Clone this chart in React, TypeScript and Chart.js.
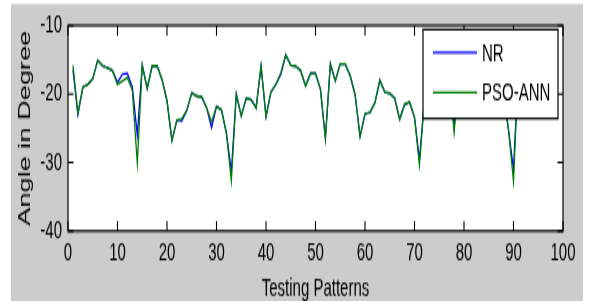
import { useEffect, useRef } from 'react';
import { Chart, registerables } from 'chart.js';

Chart.register(...registerables);

// ---- data ----
const patterns = [
  1, 2, 3, 4, 5, 6, 7, 8, 9, 10, 11, 12, 13, 14, 15, 16, 17, 18, 19, 20,
  21, 22, 23, 24, 25, 26, 27, 28, 29, 30, 31, 32, 33, 34, 35, 36, 37, 38, 39, 40,
  41, 42, 43, 44, 45, 46, 47, 48, 49, 50, 51, 52, 53, 54, 55, 56, 57, 58, 59, 60,
  61, 62, 63, 64, 65, 66, 67, 68, 69, 70, 71, 72, 73, 74, 75, 76, 77, 78, 79, 80,
  81, 82, 83, 84, 85, 86, 87, 88, 89, 90, 91, 92, 93, 94, 95,
];

const nrAngles = [
  -16.5, -23.0, -19.0, -18.6, -17.8, -15.1, -15.9, -16.2, -16.6, -18.3,
  -17.1, -17.0, -19.0, -26.0, -15.8, -19.2, -15.9, -15.9, -17.9, -21.0,
  -26.8, -23.8, -23.9, -22.4, -19.8, -20.3, -20.4, -22.0, -24.9, -21.8,
  -22.3, -25.7, -31.3, -20.0, -23.2, -20.6, -20.8, -22.0, -15.9, -23.3,
  -19.7, -18.6, -17.1, -14.3, -15.8, -15.9, -16.6, -18.8, -17.0, -17.0,
  -19.3, -26.5, -15.6, -18.1, -15.6, -15.6, -17.3, -20.1, -26.2, -22.9,
  -22.7, -21.3, -18.0, -19.7, -19.9, -20.6, -23.7, -21.5, -21.2, -23.4,
  -29.6, -20.9, -17.5, -16.0, -17.0, -16.5, -16.8, -25.0, -16.8, -16.0,
  -18.0, -17.0, -15.5, -16.0, -18.5, -17.0, -16.5, -20.0, -25.3, -31.0,
  -16.0, -15.5, -17.0, -16.5, -18.0,
];

const psoAnnAngles = [
  -15.8, -22.8, -19.0, -18.6, -17.8, -15.1, -15.9, -16.2, -16.6, -18.6,
  -18.1, -17.6, -19.5, -30.1, -15.8, -19.2, -15.9, -15.9, -17.9, -21.0,
  -26.8, -23.8, -23.6, -22.4, -19.8, -20.3, -20.4, -22.0, -24.1, -21.8,
  -22.3, -25.7, -32.7, -20.0, -23.2, -20.6, -20.8, -22.0, -15.9, -23.3,
  -19.7, -18.6, -16.9, -14.3, -15.8, -15.9, -16.6, -18.8, -17.0, -17.0,
  -19.3, -26.5, -15.6, -18.1, -15.6, -15.6, -17.3, -20.1, -26.2, -22.9,
  -22.7, -21.3, -18.0, -19.7, -19.9, -20.6, -23.7, -21.5, -21.2, -23.4,
  -30.4, -20.9, -17.5, -16.0, -17.0, -16.5, -16.8, -25.6, -16.8, -16.0,
  -18.0, -17.0, -15.5, -16.0, -18.5, -17.0, -16.5, -20.0, -25.3, -32.7,
  -16.0, -15.5, -17.0, -16.5, -18.0,
];

const seriesLabels = ['NR', 'PSO-ANN'];
const xTitle = 'Testing Patterns';
const yTitle = 'Angle in Degree';
const xRange = [0, 100];
const yRange = [-40, -10];

// ---- layout (canvas is drawn short and stretched vertically like the original picture) ----
const W = 589;
const H = 301;
const CH = 177; // backing height
const K = CH / H; // screen-y -> canvas-y
const FONT = 'Liberation Sans, Arial, Helvetica, sans-serif';

const figurePlugin = {
  id: 'figureBg',
  beforeDraw(chart: any) {
    const { ctx, width, height, chartArea: a } = chart;
    ctx.save();
    ctx.fillStyle = '#ffffff';
    ctx.fillRect(0, 0, width, height);
    ctx.fillStyle = '#cccccc';
    ctx.fillRect(11, 4 * K, 572, height);
    ctx.fillStyle = '#ffffff';
    ctx.fillRect(a.left, a.top, a.right - a.left, a.bottom - a.top);
    ctx.restore();
  },
};

const boxPlugin = {
  id: 'axesBox',
  afterDatasetsDraw(chart: any) {
    const { ctx, chartArea: a, scales } = chart;
    ctx.save();
    ctx.strokeStyle = '#000000';
    ctx.lineWidth = 1.2;
    ctx.strokeRect(a.left, a.top, a.right - a.left, a.bottom - a.top);
    ctx.lineWidth = 1.1;
    ctx.beginPath();
    const xl = 10 * K;
    scales.x.ticks.forEach((t: any) => {
      const px = scales.x.getPixelForValue(t.value);
      ctx.moveTo(px, a.bottom);
      ctx.lineTo(px, a.bottom - xl);
      ctx.moveTo(px, a.top);
      ctx.lineTo(px, a.top + xl);
    });
    scales.y.ticks.forEach((t: any) => {
      const py = scales.y.getPixelForValue(t.value);
      ctx.moveTo(a.left, py);
      ctx.lineTo(a.left + 5.5, py);
      ctx.moveTo(a.right, py);
      ctx.lineTo(a.right - 5.5, py);
    });
    ctx.stroke();
    ctx.restore();
  },
};

const legendPlugin = {
  id: 'insideLegend',
  afterDraw(chart: any) {
    const { ctx, chartArea: a } = chart;
    const ds = chart.data.datasets;
    const right = a.right - 5;
    const left = right - 135;
    const top = a.top + 4 * K;
    const bottom = top + 89 * K;
    ctx.save();
    ctx.fillStyle = '#ffffff';
    ctx.fillRect(left, top, right - left, bottom - top);
    ctx.strokeStyle = '#000000';
    ctx.lineWidth = 1.2;
    ctx.strokeRect(left, top, right - left, bottom - top);
    ctx.font = `15px ${FONT}`;
    ctx.textBaseline = 'middle';
    ctx.textAlign = 'left';
    const rows = [top + 23 * K, top + 63 * K];
    ds.forEach((d: any, i: number) => {
      const y = rows[i];
      ctx.strokeStyle = d.borderColor;
      ctx.lineWidth = 1.3;
      ctx.beginPath();
      ctx.moveTo(left + 10, y);
      ctx.lineTo(left + 54, y);
      ctx.stroke();
      ctx.fillStyle = '#000000';
      ctx.fillText(d.label, left + 59, y + 0.5);
    });
    ctx.restore();
  },
};

export default function App() {
  const canvasRef = useRef<HTMLCanvasElement | null>(null);

  useEffect(() => {
    const canvas = canvasRef.current;
    if (!canvas) return;
    const chart = new Chart(canvas, {
      type: 'line',
      data: {
        datasets: [
          {
            label: seriesLabels[0],
            data: patterns.map((p, i) => ({ x: p, y: nrAngles[i] })),
            borderColor: '#0000ff',
            backgroundColor: '#0000ff',
            borderWidth: 1.3,
            pointRadius: 0,
            tension: 0,
            order: 2,
          },
          {
            label: seriesLabels[1],
            data: patterns.map((p, i) => ({ x: p, y: psoAnnAngles[i] })),
            borderColor: '#008000',
            backgroundColor: '#008000',
            borderWidth: 1.3,
            pointRadius: 0,
            tension: 0,
            order: 1,
          },
        ],
      },
      options: {
        animation: false,
        responsive: false,
        devicePixelRatio: 1,
        events: [],
        layout: { padding: { top: 15 * K, right: W - 563, left: 0, bottom: 0 } },
        plugins: { legend: { display: false }, tooltip: { enabled: false }, title: { display: false } },
        scales: {
          x: {
            type: 'linear',
            min: xRange[0],
            max: xRange[1],
            grid: { display: false, drawTicks: false },
            border: { display: false },
            ticks: { stepSize: 10, color: '#000000', font: { family: FONT, size: 15 }, padding: 4, maxRotation: 0 },
            title: {
              display: true,
              text: xTitle,
              color: '#000000',
              font: { family: FONT, size: 15, lineHeight: 1 },
              padding: { top: 0, bottom: 0 },
            },
            afterFit(scale: any) {
              scale.height = CH - 231 * K;
            },
          },
          y: {
            type: 'linear',
            min: yRange[0],
            max: yRange[1],
            grid: { display: false, drawTicks: false },
            border: { display: false },
            ticks: { stepSize: 10, color: '#000000', font: { family: FONT, size: 15 }, padding: 6 },
            title: {
              display: true,
              text: yTitle,
              color: '#000000',
              font: { family: FONT, size: 16, lineHeight: 1.2 },
              padding: { top: 16.4, bottom: 0 },
            },
            afterFit(scale: any) {
              scale.width = 68;
            },
          },
        },
      },
      plugins: [figurePlugin, boxPlugin, legendPlugin],
    });
    return () => chart.destroy();
  }, []);

  return (
    <div style={{ position: 'fixed', left: 0, top: 0, width: W, height: H, background: '#ffffff' }}>
      <canvas
        ref={canvasRef}
        width={W}
        height={CH}
        style={{ display: 'block', width: `${W}px`, height: `${H}px` }}
      />
    </div>
  );
}
